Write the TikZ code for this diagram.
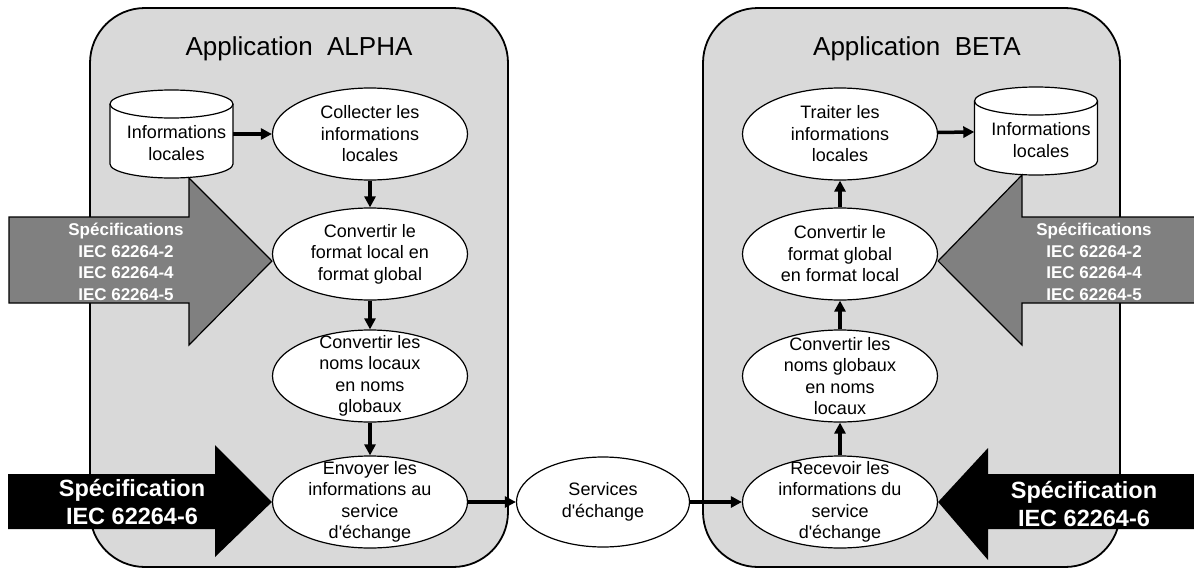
\documentclass[tikz,border=0pt]{standalone}
\usepackage{fontspec}
\setmainfont{Liberation Sans}
\usetikzlibrary{shapes.geometric,arrows.meta}
\definecolor{fondAppli}{HTML}{D9D9D9}
\definecolor{grisSpec}{HTML}{808080}

\begin{document}
\begin{tikzpicture}[x=1pt,y=-1pt,
  appli/.style={draw, line width=1.8pt, fill=fondAppli, rounded corners=55pt},
  titre/.style={font=\fontsize{26}{30}\selectfont},
  texte/.style={font=\fontsize{18}{21.5}\selectfont, align=center, inner sep=0pt},
  etape/.style={ellipse, draw, line width=1.2pt, fill=white, minimum width=195pt, minimum height=92pt, inner sep=0pt, label={[texte]center:#1}},
  base/.style={rectangle, minimum width=123pt, minimum height=88pt, inner sep=0pt, label={[texte, xshift=5pt, yshift=-9pt]center:#1}},
  cyl/.style={draw, line width=1.2pt, fill=white},
  fleche/.style={-{Triangle[length=11pt,width=11pt]}, line width=3.5pt},
  specGrise/.style={draw, line width=1.2pt, fill=grisSpec},
  txtGris/.style={font=\fontsize{17}{21.5}\selectfont\bfseries, text=white, align=center, inner sep=0pt},
  txtNoir/.style={font=\fontsize{23.5}{28.5}\selectfont\bfseries, text=white, align=center, inner sep=0pt}]

  \useasboundingbox (0,0) rectangle (1194,570);

  % les deux applications
  \draw[appli] (90,8) rectangle (508,567);
  \draw[appli] (703,8) rectangle (1120,567);
  \node[titre] (titreA) at (299,49) {Application\ \ ALPHA};
  \node[titre] (titreB) at (917,49) {Application\ \ BETA};

  % bases de donnees (le texte vient apres, en label)
  \coordinate (cA) at (171.5,134);
  \coordinate (cB) at (1036,131);
  \foreach \c in {cA,cB}{
    \filldraw[cyl] ([shift={(-61.5pt,30pt)}]\c) -- ([shift={(-61.5pt,-30pt)}]\c)
      arc[start angle=180, end angle=360, x radius=61.5pt, y radius=14pt]
      -- ([shift={(61.5pt,30pt)}]\c)
      arc[start angle=0, end angle=180, x radius=61.5pt, y radius=14pt] -- cycle;
    \draw[cyl, fill=none] ([shift={(-61.5pt,30pt)}]\c)
      arc[start angle=180, end angle=360, x radius=61.5pt, y radius=14pt];
  }
  \node[base={Informations\\locales}] (infoA) at (cA) {};
  \node[base={Informations\\locales}] (infoB) at (cB) {};

  % application ALPHA
  \node[etape={Collecter les\\informations\\locales}] (collA) at (370,134) {};
  \node[etape={Convertir le\\format local en\\format global}] (formA) [below of=collA, node distance=120pt] {};
  \node[etape={Convertir les\\noms locaux\\en noms\\globaux}] (nomsA) [below of=formA, node distance=122pt] {};
  \node[etape={Envoyer les\\informations au\\service\\d\textquotesingle échange}] (envoiA) [below of=nomsA, node distance=126pt] {};

  \node[etape={Services\\d\textquotesingle échange}, minimum width=173pt, minimum height=90pt] (serv) at (603,502) {};

  % application BETA
  \node[etape={Traiter les\\informations\\locales}] (traitB) at (840,134) {};
  \node[etape={Convertir le\\format global\\en format local}] (formB) [below of=traitB, node distance=120pt] {};
  \node[etape={Convertir les\\noms globaux\\en noms\\locaux}] (nomsB) [below of=formB, node distance=122pt] {};
  \node[etape={Recevoir les\\informations du\\service\\d\textquotesingle échange}] (recB) [below of=nomsB, node distance=126pt] {};

  % specifications
  \filldraw[specGrise] (9,217) -- (189,217) -- (189,178) -- ([yshift=-7pt]formA.west) -- (189,345) -- (189,303) -- (9,303) -- cycle;
  \node[txtGris] (specA) at (126,262) {Spécifications\\IEC 62264-2\\IEC 62264-4\\IEC 62264-5};
  \filldraw[specGrise] (1197,217) -- (1022,217) -- (1022,175) -- ([yshift=-7pt]formB.east) -- (1022,345) -- (1022,303) -- (1197,303);
  \node[txtGris] (specB) at (1094,262) {Spécifications\\IEC 62264-2\\IEC 62264-4\\IEC 62264-5};

  \fill (8,474) -- (215,474) -- (215,445) -- (envoiA.west) -- (215,557) -- (215,529) -- (8,529) -- cycle;
  \node[txtNoir] (echA) at (132,502) {Spécification\\IEC 62264-6};
  \fill (1197,474) -- (988,474) -- (988,448) -- (recB.east) -- (988,560) -- (988,529) -- (1197,529) -- cycle;
  \node[txtNoir] (echB) at (1084,504) {Spécification\\IEC 62264-6};

  \path[fleche] (infoA) edge (collA) (collA) edge (formA) (formA) edge (nomsA) (nomsA) edge (envoiA);
  \path[fleche] (envoiA) edge (serv) (serv) edge (recB);
  \path[fleche] (recB) edge (nomsB) (nomsB) edge (formB) (formB) edge (traitB) (traitB) edge (infoB);

\end{tikzpicture}
\end{document}
